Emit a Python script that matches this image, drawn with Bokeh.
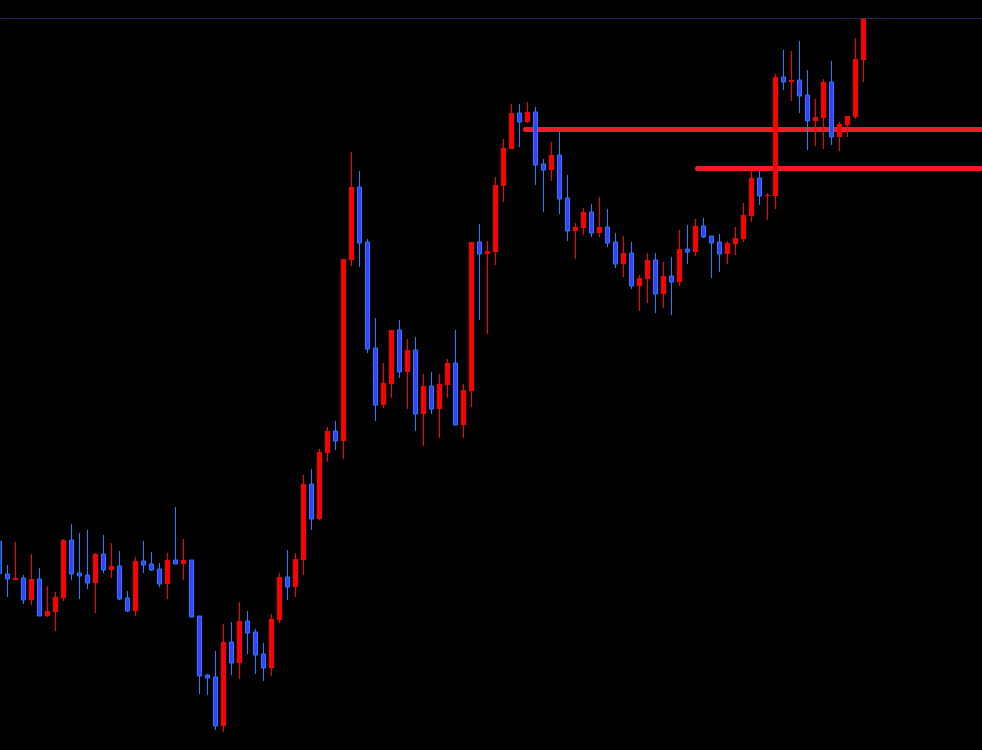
from bokeh.plotting import figure
from bokeh.models import ColumnDataSource, Range1d, Span
from bokeh.embed import file_html
from bokeh.resources import INLINE

# Candle data, one entry per bar (price levels in chart units)
opens = [209,176,170,172,150,171,134,138,152,210,177,175,167,196,180,184,152,139,189,186,
         181,166,190,186,190,134,75,73,24,108,87,129,118,96,82,130,173,163,190,266,
         231,297,319,309,490,563,508,402,345,366,420,378,400,336,364,341,365,387,325,359,
         508,496,498,564,601,637,628,638,586,580,595,552,519,522,538,517,523,508,486,497,
         464,471,490,456,474,468,501,498,524,514,508,496,506,511,534,572,554,554,673,668,
         670,655,629,632,668,613,625,633,690,731]
highs = [211,185,208,175,196,182,164,158,211,226,217,220,197,215,207,199,159,193,209,198,
         187,197,243,211,190,134,76,99,126,128,148,139,121,107,136,177,200,197,275,281,
         301,323,329,491,598,579,511,432,387,420,430,411,413,376,378,376,391,420,366,508,
         526,509,573,611,646,646,648,643,591,608,618,575,527,542,546,553,541,517,514,508,
         475,497,497,488,493,520,525,531,532,514,516,509,523,547,579,579,557,676,700,699,
         709,680,651,671,689,628,634,712,745,780]
lows = [174,153,170,146,145,134,133,119,149,170,151,161,137,177,172,150,138,134,177,179,
        163,151,186,170,133,56,55,20,18,75,71,96,76,69,74,127,150,153,175,220,
        230,288,300,291,484,483,397,329,342,352,372,341,319,304,336,312,352,325,312,343,
        430,416,485,548,601,603,627,565,538,569,536,509,491,515,513,513,503,482,473,461,
        439,447,437,442,435,464,486,494,512,472,478,486,495,508,528,545,530,541,660,649,
        637,600,604,601,605,599,613,631,668,731]
closes = [176,171,172,150,171,134,139,153,210,176,174,167,196,180,184,151,139,189,185,180,
          166,190,186,190,133,74,72,24,108,87,129,117,95,82,131,173,163,191,266,231,
          298,319,309,491,563,507,401,345,367,420,378,400,336,364,341,366,387,325,360,508,
          496,499,565,602,637,628,638,585,580,595,551,519,523,538,517,523,507,486,497,464,
          472,490,456,474,468,501,498,524,513,507,496,507,512,535,572,554,555,673,668,670,
          654,629,633,668,613,626,634,691,740,770]

# Horizontal levels: (price, first bar)
level_prices = [620.5, 581.5]
level_starts = [65.75, 87.25]
top_line_price = 731.5

n = len(opens)
xs = list(range(n))
up = [c >= o for o, c in zip(opens, closes)]

def sub(mask):
    idx = [i for i in range(n) if mask[i]]
    return ColumnDataSource(dict(
        x=[xs[i] for i in idx],
        top=[max(opens[i], closes[i]) for i in idx],
        bottom=[min(opens[i], closes[i]) for i in idx],
        high=[highs[i] for i in idx],
        low=[lows[i] for i in idx],
    ))

src_up = sub(up)
src_dn = sub([not u for u in up])

RED = "#ff0000"
BLUE_FILL = "#3d3dff"
BLUE_LINE = "#2080ff"
LEVEL_RED = "#ee1c25"

p = figure(width=982, height=750, output_backend="svg", toolbar_location=None,
           x_range=Range1d(0.125, 122.875), y_range=Range1d(-0.5, 731.5),
           x_axis_location=None, y_axis_location=None,
           min_border_left=0, min_border_right=0, min_border_bottom=0, min_border_top=18,
           background_fill_color="black", border_fill_color="black",
           outline_line_color=None)
p.grid.visible = False

p.add_layout(Span(location=top_line_price, dimension="width",
                  line_color="#4a4aa0", line_width=1))

p.segment(x0=level_starts, y0=level_prices, x1=[130, 130], y1=level_prices,
          line_color=LEVEL_RED, line_width=5, line_cap="round")

p.segment(x0="x", y0="high", x1="x", y1="low", source=src_up, line_color=RED, line_width=1)
p.segment(x0="x", y0="high", x1="x", y1="low", source=src_dn, line_color=BLUE_LINE, line_width=1)

p.vbar(x="x", top="top", bottom="bottom", width=0.625, source=src_up,
       fill_color=RED, line_color=None)
p.vbar(x="x", top="top", bottom="bottom", width=0.5, source=src_dn,
       fill_color=BLUE_FILL, line_color=BLUE_LINE, line_width=1)

template = """
{% block postamble %}
<style>html, body { margin: 0; padding: 0; background: #000; overflow: hidden; }</style>
{% endblock %}
"""

open("out.html", "w").write(file_html(p, INLINE, template=template))
